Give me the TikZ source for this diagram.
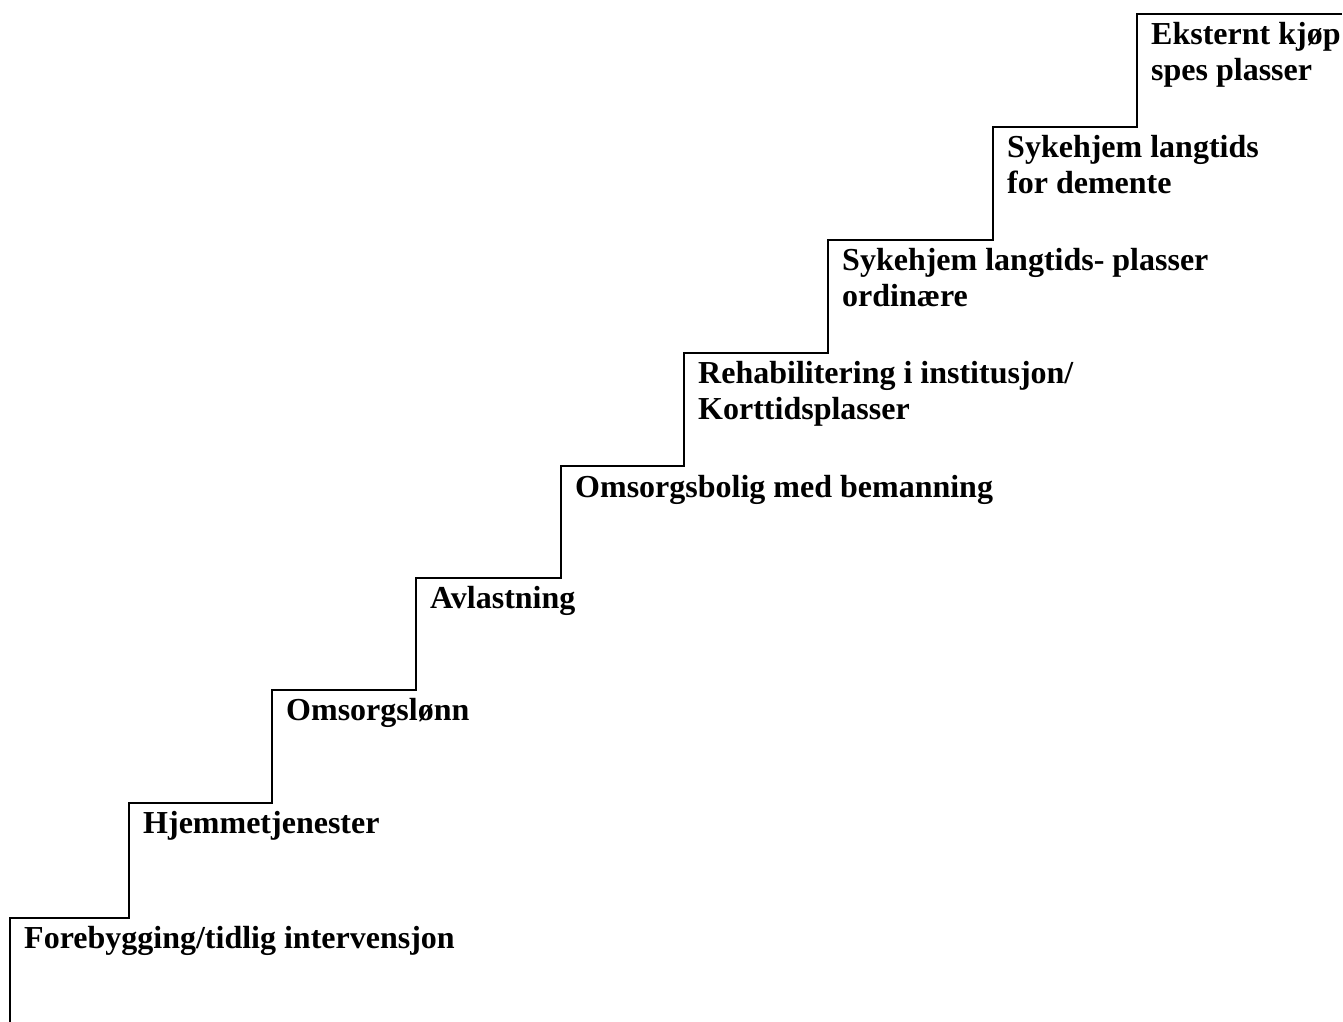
\documentclass[tikz,border=0pt]{standalone}
\usepackage{fontspec}
\setmainfont{Liberation Serif}
\begin{document}
\begin{tikzpicture}[x=1pt,y=-1pt,
  stair/.style={draw=black,line width=2pt,line join=miter},
  lbl/.style={anchor=base west,inner sep=0pt,font=\fontsize{32}{36}\selectfont\bfseries}]
\useasboundingbox (0,0) rectangle (1343,1021);
\draw[stair] (10,1022) |- (129,918) |- (272,803) |- (416,690) |- (561,578) |- (684,466) |- (828,353) |- (993,240) |- (1137,127) |- (1342,14);
\node[lbl] (s1) at (24,948) {Forebygging/tidlig intervensjon};
\node[lbl] (s2) at (143,833) {Hjemmetjenester};
\node[lbl] (s3) at (286,720) {Omsorgslønn};
\node[lbl] (s4) at (430,608) {Avlastning};
\node[lbl] (s5) at (575,497) {Omsorgsbolig med bemanning};
\node[lbl] (s6a) at (698,383) {Rehabilitering i institusjon/};
\node[lbl] (s6b) at (698,419) {Korttidsplasser};
\node[lbl] (s7a) at (842,270) {Sykehjem langtids- plasser};
\node[lbl] (s7b) at (842,306) {ordinære};
\node[lbl] (s8a) at (1007,157) {Sykehjem langtids};
\node[lbl] (s8b) at (1007,193) {for demente};
\node[lbl] (s9a) at (1151,44) {Eksternt kjøp};
\node[lbl] (s9b) at (1151,80) {spes plasser};
\end{tikzpicture}
\end{document}
